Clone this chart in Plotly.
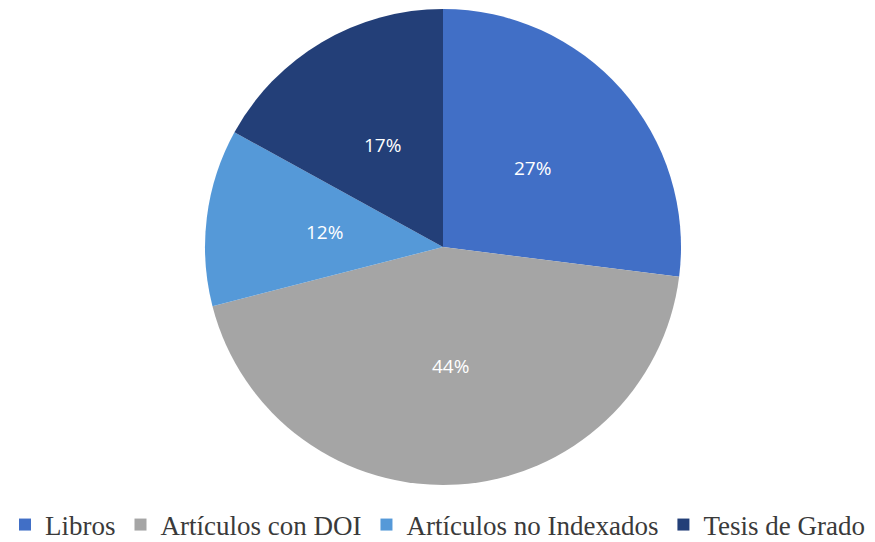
import math
import plotly.graph_objects as go

categorias = ["Libros", "Artículos con DOI", "Artículos no Indexados", "Tesis de Grado"]
valores = [27, 44, 12, 17]
colores = ["#416fc6", "#a5a5a5", "#5599d8", "#233f78"]

W, H = 875, 542
cx, cy, r = 443, 247, 238

fig = go.Figure(go.Pie(
    labels=categorias,
    values=valores,
    sort=False,
    direction="clockwise",
    rotation=0,
    marker=dict(colors=colores, line=dict(width=0)),
    textinfo="none",
    hoverinfo="label+percent",
    domain=dict(x=[(cx - r) / W, (cx + r) / W], y=[1 - (cy + r) / H, 1 - (cy - r) / H]),
))

# Percentage labels placed at half radius along each slice's mid-angle
total = sum(valores)
acum = 0
for v in valores:
    mid = (acum + v / 2) / total * 2 * math.pi
    acum += v
    px = cx + 0.5 * r * math.sin(mid)
    py = cy - 0.5 * r * math.cos(mid)
    fig.add_annotation(
        x=px / W, y=1 - py / H, xref="paper", yref="paper",
        text=f"{round(v / total * 100)}%", showarrow=False,
        font=dict(family="Open Sans, Liberation Sans, sans-serif", size=19, color="white"),
        xanchor="center", yanchor="middle",
    )

fig.update_layout(
    width=W, height=H,
    margin=dict(l=0, r=0, t=0, b=0, autoexpand=False),
    paper_bgcolor="white",
    plot_bgcolor="white",
    showlegend=True,
    legend=dict(
        orientation="h",
        x=0.5, xanchor="center",
        y=1 - 525 / H, yanchor="middle",
        font=dict(family="Liberation Serif, Times New Roman, serif", size=27, color="#3a3a3a"),
        itemwidth=30,
        traceorder="normal",
    ),
)

fig.write_html("out.html")
